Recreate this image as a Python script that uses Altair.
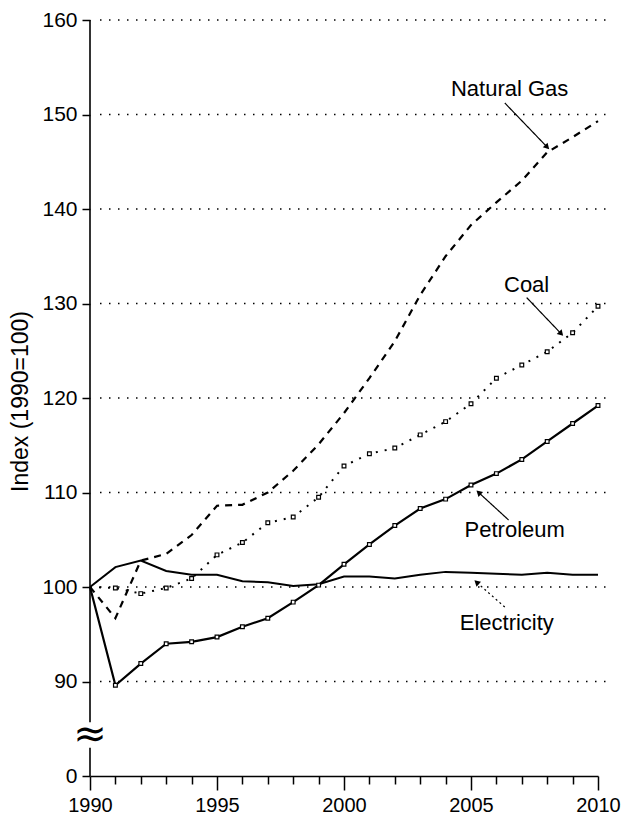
import altair as alt
import pandas as pd

# ---------------- data ----------------
years = list(range(1990, 2011))
natural_gas = [100, 96.7, 102.8, 103.5, 105.5, 108.6, 108.7, 110.0, 112.3, 115.1, 118.4,
               122.1, 126.0, 130.9, 135.0, 138.3, 140.7, 143.0, 146.0, 147.6, 149.3]
coal = [100, 99.9, 99.3, 99.9, 100.9, 103.4, 104.7, 106.8, 107.4, 109.5, 112.8,
        114.1, 114.7, 116.1, 117.5, 119.4, 122.1, 123.5, 124.9, 126.9, 129.7]
petroleum = [100, 89.6, 91.9, 94.0, 94.2, 94.7, 95.8, 96.7, 98.4, 100.2, 102.4,
             104.5, 106.5, 108.3, 109.3, 110.8, 112.0, 113.5, 115.4, 117.3, 119.2]
electricity = [100, 102.1, 102.8, 101.7, 101.3, 101.3, 100.6, 100.5, 100.1, 100.3, 101.1,
               101.1, 100.9, 101.3, 101.6, 101.5, 101.4, 101.3, 101.5, 101.3, 101.3]

# y axis: the 0..90 range is compressed into one interval (broken axis); 80 is shown as "0"
y_ticks = [80, 90, 100, 110, 120, 130, 140, 150, 160]
y_tick_labels = ["0", "90", "100", "110", "120", "130", "140", "150", "160"]
grid_values = [90, 100, 110, 120, 130, 140, 150, 160]
x_label_years = [1990, 1995, 2000, 2005, 2010]

# annotations (label position, arrow start, arrow tip, head angle)
ann_labels = ["Natural Gas", "Coal", "Petroleum", "Electricity"]
ann_x = [2006.52, 2007.19, 2006.72, 2006.41]
ann_y = [152.65, 132.0, 106.03, 96.24]
arrow_x0 = [2006.33, 2007.19, 2006.48, 2006.33]
arrow_y0 = [151.22, 130.63, 107.09, 97.88]
arrow_x1 = [2008.0, 2008.55, 2005.3, 2005.22]
arrow_y1 = [146.55, 126.8, 110.0, 100.5]
arrow_angle = [136, 137, 313, 312]
arrow_dash = ["solid", "solid", "solid", "dotted"]

# axis break
break_lo = [80, 85.7]
break_hi = [83.0, 160]
squiggle_y = [84.3]

# ---------------- chart ----------------
FONT = "Liberation Sans"
label_map = "{" + ",".join(f"'{v}':'{l}'" for v, l in zip(y_ticks, y_tick_labels)) + "}"

xs = alt.Scale(domain=[1990, 2010], nice=False, zero=False)
ys = alt.Scale(domain=[80, 160], nice=False, zero=False)

x_test = " || ".join(f"datum.value == {v}" for v in x_label_years)
xaxis = alt.Axis(
    values=years, format="d", title=None, grid=False,
    labelExpr=f"({x_test}) ? datum.label : ''",
    labelFlush=False, labelOverlap=False,
    tickSize={"condition": {"test": x_test, "value": 14}, "value": 8},
    tickColor="black", tickWidth=1.5, domainColor="black", domainWidth=1.6,
    labelFont=FONT, labelFontSize=20, labelColor="black", labelPadding=5,
)
yaxis = alt.Axis(
    values=y_ticks, title="Index (1990=100)", grid=False, domain=False,
    labelExpr=f"{label_map}[datum.value]",
    tickSize=8, tickColor="black", tickWidth=1.5,
    labelFont=FONT, labelFontSize=21, labelColor="black", labelPadding=5,
    titleFont=FONT, titleFontSize=23, titleFontWeight="normal", titleColor="black",
    titleAngle=270, titleAlign="center", titleBaseline="middle", titleX=-70, titleY=381,
)


def X(field):
    return alt.X(field, type="quantitative", scale=xs, axis=xaxis)


def Y(field):
    return alt.Y(field, type="quantitative", scale=ys, axis=yaxis)


def series_df(vals):
    return pd.DataFrame({"year": years, "value": vals})


grid_df = pd.DataFrame({"value": grid_values})
grid = alt.Chart(grid_df).mark_rule(color="black", strokeWidth=1.3, strokeDash=[1.5, 7.5]).encode(
    y=Y("value"), x=alt.value(10), x2=alt.value(516)
)

axis_df = pd.DataFrame({"value": break_lo, "value2": break_hi})
yline = alt.Chart(axis_df).mark_rule(color="black", strokeWidth=1.6).encode(
    y=Y("value"), y2="value2", x=alt.value(0)
)

sq_df = pd.DataFrame({"year": [1990] * len(squiggle_y), "value": squiggle_y, "t": ["≈"] * len(squiggle_y)})
squig = alt.Chart(sq_df).mark_text(font="DejaVu Sans", fontSize=40, color="black", baseline="middle").encode(
    x=X("year"), y=Y("value"), text="t:N"
)

ng = alt.Chart(series_df(natural_gas)).mark_line(color="black", strokeWidth=2.2, strokeDash=[7, 6]).encode(
    x=X("year"), y=Y("value")
)
coal_line = alt.Chart(series_df(coal)).mark_line(color="black", strokeWidth=2, strokeDash=[2, 7]).encode(
    x=X("year"), y=Y("value")
)
coal_pts = alt.Chart(series_df(coal)[1:]).mark_square(size=14, fill="white", stroke="black", strokeWidth=1.2, opacity=1).encode(
    x=X("year"), y=Y("value")
)
pet_line = alt.Chart(series_df(petroleum)).mark_line(color="black", strokeWidth=2.2).encode(
    x=X("year"), y=Y("value")
)
pet_pts = alt.Chart(series_df(petroleum)[1:]).mark_square(size=14, fill="white", stroke="black", strokeWidth=1.2, opacity=1).encode(
    x=X("year"), y=Y("value")
)
elec = alt.Chart(series_df(electricity)).mark_line(color="black", strokeWidth=2).encode(
    x=X("year"), y=Y("value")
)

ann_df = pd.DataFrame({
    "label": ann_labels, "year": ann_x, "value": ann_y,
    "x0": arrow_x0, "y0": arrow_y0, "x1": arrow_x1, "y1": arrow_y1, "ang": arrow_angle,
    "dash": arrow_dash,
})
ann_text = alt.Chart(ann_df).mark_text(font=FONT, fontSize=22, color="black", align="center", baseline="middle").encode(
    x=X("year"), y=Y("value"), text="label:N"
)
arrows = alt.Chart(ann_df).mark_rule(color="black", strokeWidth=1.2).encode(
    x=X("x0"), y=Y("y0"), x2="x1", y2="y1",
    strokeDash=alt.StrokeDash("dash:N", scale=alt.Scale(domain=["solid", "dotted"], range=[[1, 0], [2, 3]]), legend=None),
)
heads = alt.Chart(ann_df).mark_point(shape="triangle-up", filled=True, size=45, color="black", opacity=1).encode(
    x=X("x1"), y=Y("y1"), angle=alt.Angle("ang:Q", scale=None)
)

chart = alt.layer(
    grid, yline, squig, ng, coal_line, coal_pts, elec, pet_line, pet_pts, arrows, heads, ann_text
).properties(
    width=508, height=756,
    padding={"left": 82, "top": 12, "right": 24, "bottom": 40},
    autosize=alt.AutoSizeParams(type="none"),
    background="white",
).configure_view(stroke=None)

chart.save("out.html", embed_options={"renderer": "svg", "actions": False})
